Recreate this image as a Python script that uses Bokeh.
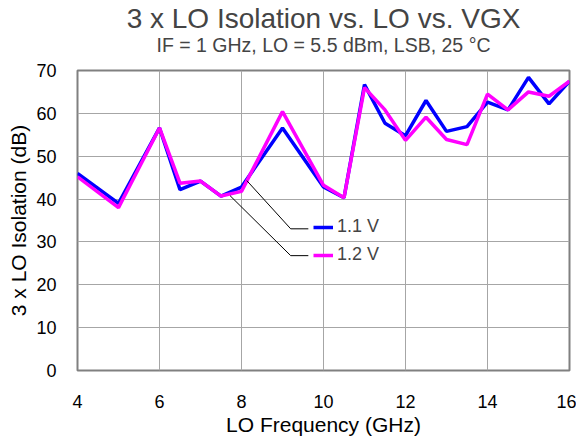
from bokeh.plotting import figure
from bokeh.models import Title, Legend, LegendItem, Range1d, FixedTicker
from bokeh.embed import file_html
from bokeh.resources import INLINE

freq = [4, 5, 6, 6.5, 7, 7.5, 8, 9, 10, 10.5, 11, 11.5, 12, 12.5, 13, 13.5, 14, 14.5, 15, 15.5, 16]
iso_11v = [46.0, 39.0, 56.6, 42.2, 44.2, 40.7, 42.8, 56.6, 42.8, 40.3, 66.7, 57.7, 54.8, 63.0, 55.8, 56.9, 62.6, 60.8, 68.4, 62.2, 67.5]
iso_12v = [45.2, 38.0, 56.6, 43.7, 44.2, 40.7, 41.8, 60.4, 43.2, 40.3, 66.0, 60.8, 53.7, 59.1, 53.9, 52.7, 64.5, 60.8, 65.0, 64.0, 67.5]
series_names = ["1.1 V", "1.2 V"]
x_ticks = [4, 6, 8, 10, 12, 14, 16]
y_ticks = [0, 10, 20, 30, 40, 50, 60, 70]

# callout leader lines (annotation geometry)
lead1_x = [8.13, 9.2, 9.63]
lead1_y = [44.3, 33.06, 33.06]
lead2_x = [7.72, 9.2, 9.63]
lead2_y = [40.8, 26.8, 26.8]

FONT = "Liberation Sans"

p = figure(width=576, height=438, output_backend="svg", toolbar_location=None,
           x_range=Range1d(4, 16), y_range=Range1d(0, 70),
           min_border_left=77, min_border_right=7, min_border_top=70, min_border_bottom=0)

p.outline_line_color = "#808080"
p.outline_line_width = 2
p.background_fill_color = "white"
p.border_fill_color = "white"

for ax in (p.xaxis[0], p.yaxis[0]):
    ax.axis_line_color = None
    ax.major_tick_line_color = None
    ax.minor_tick_line_color = None
    ax.major_tick_in = 0
    ax.major_tick_out = 0
    ax.major_label_text_font = FONT
    ax.major_label_text_font_size = "18px"
    ax.major_label_text_color = "black"
    ax.axis_label_text_font = FONT
    ax.axis_label_text_font_size = "21px"
    ax.axis_label_text_font_style = "normal"
    ax.axis_label_text_color = "black"

p.xaxis[0].ticker = FixedTicker(ticks=x_ticks)
p.yaxis[0].ticker = FixedTicker(ticks=y_ticks)
p.xaxis[0].major_label_standoff = 24
p.yaxis[0].major_label_standoff = 21
p.xaxis[0].axis_label = "LO Frequency (GHz)"
p.yaxis[0].axis_label = "3 x LO Isolation (dB)"
p.xaxis[0].axis_label_standoff = 2
p.yaxis[0].axis_label_standoff = 3

p.xgrid[0].grid_line_color = "#a6a6a6"
p.ygrid[0].grid_line_color = "#a6a6a6"
p.xgrid[0].grid_line_width = 1
p.ygrid[0].grid_line_width = 1

r1 = p.line(freq, iso_11v, line_color="#0000ff", line_width=3.5)
r2 = p.line(freq, iso_12v, line_color="#ff00ff", line_width=3.5)

p.line(lead1_x, lead1_y, line_color="black", line_width=1)
p.line(lead2_x, lead2_y, line_color="black", line_width=1)

legend = Legend(items=[LegendItem(label=series_names[0], renderers=[r1]),
                       LegendItem(label=series_names[1], renderers=[r2])],
                location=(236, 105), padding=0, margin=0, spacing=7,
                glyph_width=20, glyph_height=20, label_height=20, label_standoff=4,
                label_text_font=FONT, label_text_font_size="18px",
                border_line_color=None, background_fill_alpha=0)
p.add_layout(legend, "center")

sub = Title(text="IF = 1 GHz, LO = 5.5 dBm, LSB, 25 °C", align="center",
            text_font=FONT, text_font_size="19.5px", text_font_style="normal", standoff=30)
main = Title(text="3 x LO Isolation vs. LO vs. VGX", align="center",
             text_font=FONT, text_font_size="28px", text_font_style="normal", standoff=-34)
p.add_layout(sub, "above")
p.add_layout(main, "above")

open("out.html", "w").write(file_html(p, INLINE))
